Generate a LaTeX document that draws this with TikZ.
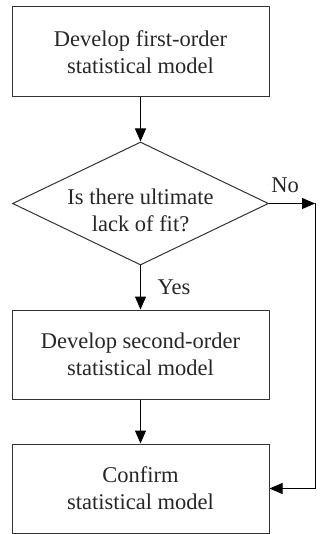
\documentclass[tikz,border=0pt]{standalone}
\usepackage{fontspec}
\setmainfont{Liberation Serif}
\usetikzlibrary{shapes.geometric,arrows.meta}
\begin{document}
\begin{tikzpicture}[x=1pt,y=1pt,
  every node/.style={font=\fontsize{22.5}{27}\selectfont, text=black!85},
  box/.style={draw=black!80, line width=1pt, minimum width=257pt, minimum height=89pt, align=center, inner sep=0pt},
  dec/.style={draw=black!80, line width=1pt, shape=diamond, aspect=2.08, minimum width=256pt, minimum height=123pt, inner sep=0pt},
  conn/.style={draw=black, line width=1pt, -{Triangle[length=13pt,width=11pt]}},
  lbl/.style={inner sep=0pt, align=center}]
\useasboundingbox (0,0) rectangle (320,-534);
\node[box, minimum height=90pt] (b1) at (140.5,-52) {Develop first-order\\statistical model};
\node[dec] (d) at (140.5,-203.5) {};
\node[lbl] (dt) at (140.5,-210) {Is there ultimate\\lack of fit?};
\node[box] (b3) at (140.5,-354.5) {Develop second-order\\statistical model};
\node[box] (b4) at (140.5,-488.5) {Confirm\\statistical model};
\coordinate (cr) at (315,-203.5);
\draw[conn] (b1) -- (d);
\draw[conn] (d) -- (b3);
\draw[conn] (b3) -- (b4);
\draw[conn] (d.east) -- (cr);
\draw[conn] (cr) |- (b4.east);
\node[lbl] (no) at (285,-185) {No};
\node[lbl] (yes) at (174,-287) {Yes};
\end{tikzpicture}
\end{document}
